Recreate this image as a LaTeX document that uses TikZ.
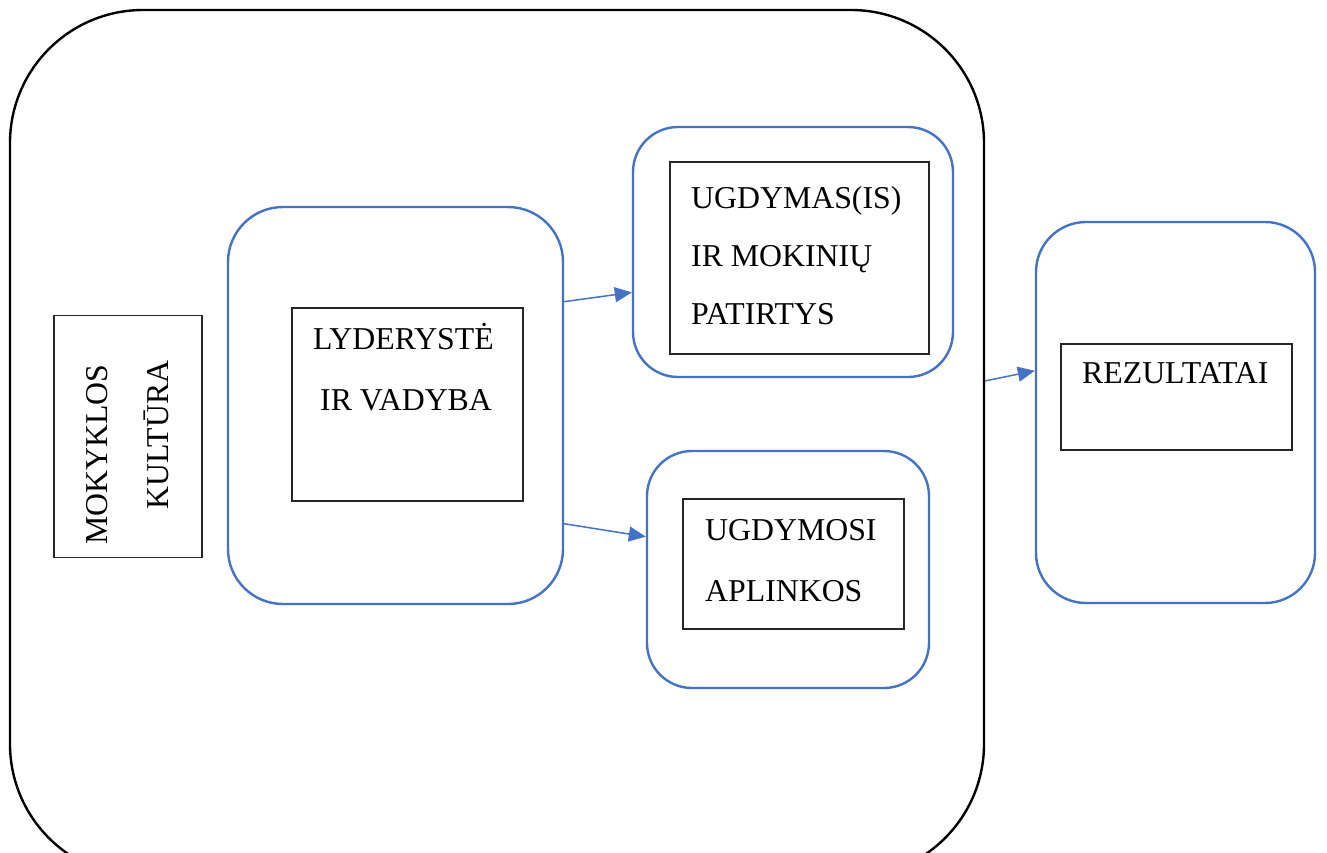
\documentclass[tikz,border=0pt]{standalone}
\usepackage{fontspec}
\setmainfont{Liberation Serif}
\usetikzlibrary{calc,arrows.meta}
\definecolor{offblue}{HTML}{4472C4}
\begin{document}
\begin{tikzpicture}[x=1pt,y=1pt,
  outer/.style={draw=offblue,line width=2.4pt,rectangle,rounded corners=#1,inner sep=0pt},
  inner/.style={draw=black!85,line width=1.2pt,rectangle,inner sep=0pt},
  lbl/.style={anchor=base west,inner sep=0pt,font=\fontsize{31.8}{37}\selectfont},
  arr/.style={draw=offblue,line width=1.5pt,-{Triangle[length=17pt,width=15pt]}}]
\clip (0,0) rectangle (1327,-852);
\fill[white] (0,0) rectangle (1327,-852);
% big black rounded rectangle
\node[draw=black,line width=2.4pt,rectangle,rounded corners=133pt,inner sep=0pt,
  minimum width=974pt,minimum height=867pt] (big) at (497,-443.5) {};
% MOKYKLOS KULTURA
\node[inner,minimum width=148pt,minimum height=242pt] (mk) at (128,-436.5) {};
\node[lbl,rotate=90] (mk1) at (107,-545) {MOKYKLOS};
\node[lbl,rotate=90] (mk2) at (168,-510) {KULTŪRA};
% Lyderyste
\node[outer=55pt,minimum width=335pt,minimum height=397pt] (lyd) at (395.5,-405.5) {};
\node[inner,minimum width=231pt,minimum height=193pt] (lydi) at (407.5,-404.5) {};
\node[lbl] (l1) at (313,-349) {LYDERYSTĖ};
\node[lbl] (l2) at (320,-410) {IR VADYBA};
% Ugdymas
\node[outer=45pt,minimum width=320pt,minimum height=250pt] (ugd) at (793,-252) {};
\node[inner,minimum width=259pt,minimum height=192pt] (ugdi) at (799.5,-258) {};
\node[lbl] (u1) at (691,-208) {UGDYMAS(IS)};
\node[lbl] (u2) at (691,-266) {IR MOKINIŲ};
\node[lbl] (u3) at (691,-324) {PATIRTYS};
% Ugdymosi aplinkos
\node[outer=45pt,minimum width=282pt,minimum height=237pt] (apl) at (788,-569.5) {};
\node[inner,minimum width=221pt,minimum height=130pt] (apli) at (793.5,-564) {};
\node[lbl] (a1) at (705,-540) {UGDYMOSI};
\node[lbl] (a2) at (705,-601) {APLINKOS};
% Rezultatai
\node[outer=50pt,minimum width=279pt,minimum height=381pt] (rez) at (1175.5,-412.5) {};
\node[inner,minimum width=231pt,minimum height=106pt] (rezi) at (1176.5,-397) {};
\node[lbl] (r1) at (1082,-383) {REZULTATAI};
% arrows
\draw[arr] ($(lyd.north east)!0.24!(lyd.south east)$) -- ($(ugd.north west)!0.66!(ugd.south west)$);
\draw[arr] ($(lyd.north east)!0.796!(lyd.south east)$) -- ($(apl.north west)!0.363!(apl.south west)$);
\draw[arr] ($(big.north east)!0.428!(big.south east)$) -- ($(rez.north west)!0.391!(rez.south west)$);
\end{tikzpicture}
\end{document}
